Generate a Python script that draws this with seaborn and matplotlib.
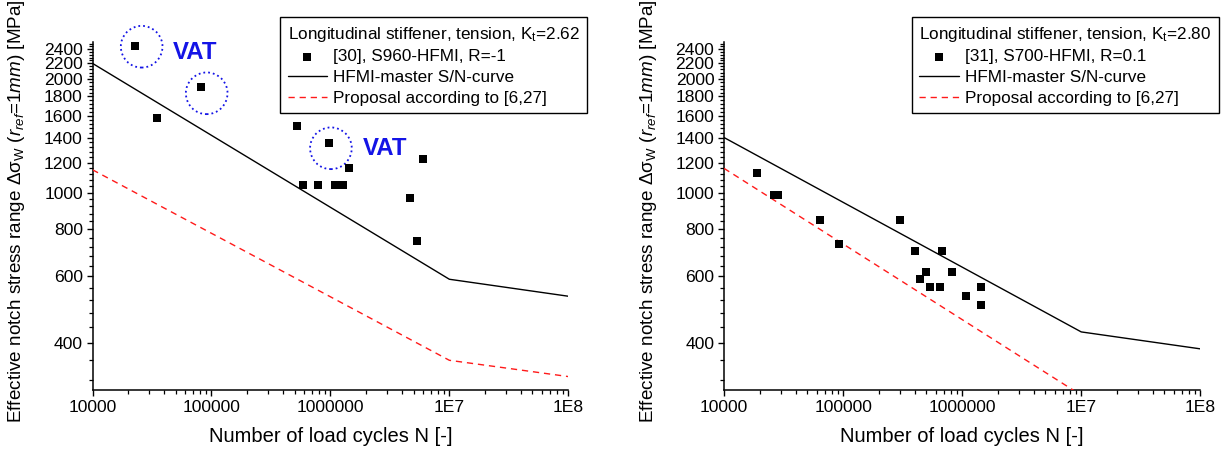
import numpy as np
import pandas as pd
import matplotlib
matplotlib.use("Agg")
import matplotlib.pyplot as plt
from matplotlib.ticker import FixedLocator, FixedFormatter, LogLocator, NullFormatter
import seaborn as sns

# ---- data -------------------------------------------------------------
# S960 longitudinal stiffener, R=-1 (ref. [30])
s960_cycles = [22800, 34600, 81600, 520000, 590000, 780000, 1090000, 1280000,
               971000, 1420000, 4660000, 5950000, 5300000]
s960_stress = [2450, 1580, 1900, 1500, 1050, 1050, 1050, 1050,
               1350, 1160, 970, 1230, 745]

# S700 longitudinal stiffener, R=0.1 (ref. [31])
s700_cycles = [18800, 26200, 28400, 64600, 92600, 299000, 404000, 681000,
               500000, 826000, 445000, 533000, 647000, 1445000, 1080000, 1445000]
s700_stress = [1130, 986, 986, 847, 732, 847, 702, 702,
               618, 618, 590, 562, 562, 562, 533, 504]

# design curves (knee points)
curve_cycles = [1e4, 1e7, 1e8]
master_left = [2200, 590, 532]
proposal_left = [1150, 360, 326]
master_right = [1400, 428, 386]
proposal_right_cycles = [1e4, 1e7]
proposal_right = [1160, 291]

# marked variable-amplitude tests
vat_circle_cycles = [25900, 91200, 1010000]
vat_circle_stress = [2435, 1833, 1311]
vat_label_cycles = [47800, 1870000]
vat_label_stress = [2344, 1306]

# axis ticks
x_ticks = [1e4, 1e5, 1e6, 1e7, 1e8]
x_tick_labels = ["10000", "100000", "1000000", "1E7", "1E8"]
y_ticks = [400, 600, 800, 1000, 1200, 1400, 1600, 1800, 2000, 2200, 2400]
y_minor = [v for v in range(320, 2500, 40) if v not in y_ticks]

titles = ["Longitudinal stiffener, tension, K$_\\mathrm{t}$=2.62",
          "Longitudinal stiffener, tension, K$_\\mathrm{t}$=2.80"]
series_labels = ["[30], S960-HFMI, R=-1", "[31], S700-HFMI, R=0.1"]
master_label = "HFMI-master S/N-curve"
proposal_label = "Proposal according to [6,27]"

# ---- style ------------------------------------------------------------
sns.set_theme(style="ticks")
plt.rcParams["font.family"] = ["Liberation Sans", "DejaVu Sans"]
plt.rcParams["mathtext.fontset"] = "custom"
plt.rcParams["mathtext.rm"] = "Liberation Sans"
plt.rcParams["mathtext.it"] = "Liberation Sans:italic"
plt.rcParams["mathtext.bf"] = "Liberation Sans:bold"
plt.rcParams["text.color"] = "black"
plt.rcParams["axes.labelcolor"] = "black"
plt.rcParams["xtick.color"] = "black"
plt.rcParams["ytick.color"] = "black"

W, H = 1225, 457
fig = plt.figure(figsize=(W / 100, H / 100), dpi=100)
ax_l = fig.add_axes([92.5 / W, (H - 390.2) / H, 475.8 / W, 347.8 / H])
ax_r = fig.add_axes([724 / W, (H - 390.2) / H, 476.3 / W, 347.8 / H])

blue = "#1414e6"


def draw_panel(ax, cyc, stress, master, prop_cyc, prop, title, series_label):
    pts = pd.DataFrame({"N": cyc, "S": stress})
    sns.scatterplot(data=pts, x="N", y="S", ax=ax, marker="s", s=34,
                    color="black", edgecolor="black", linewidth=0,
                    label=series_label, zorder=4, clip_on=False)
    sns.lineplot(x=curve_cycles, y=master, ax=ax, color="black",
                 linewidth=1.0, label=master_label, zorder=3)
    sns.lineplot(x=prop_cyc, y=prop, ax=ax, color="#ff1a1a",
                 linewidth=1.0, linestyle=(0, (4.5, 3.5)),
                 label=proposal_label, zorder=3)

    ax.set_xscale("log")
    ax.set_yscale("log")
    ax.set_xlim(1e4, 1e8)
    ax.set_ylim(300, 2500)

    ax.xaxis.set_major_locator(FixedLocator(x_ticks))
    ax.xaxis.set_major_formatter(FixedFormatter(x_tick_labels))
    ax.xaxis.set_minor_locator(LogLocator(base=10, subs=np.arange(2, 10)))
    ax.xaxis.set_minor_formatter(NullFormatter())
    ax.yaxis.set_major_locator(FixedLocator(y_ticks))
    ax.yaxis.set_major_formatter(FixedFormatter([str(v) for v in y_ticks]))
    ax.yaxis.set_minor_locator(FixedLocator(y_minor))
    ax.yaxis.set_minor_formatter(NullFormatter())

    ax.tick_params(which="major", direction="out", length=4.5, width=1.0,
                   labelsize=12.6, pad=2.5)
    ax.tick_params(which="minor", direction="out", length=2.6, width=0.9)
    sns.despine(ax=ax)
    for side in ("left", "bottom"):
        ax.spines[side].set_color("black")
        ax.spines[side].set_linewidth(1.1)
    ax.grid(False)

    ax.set_xlabel("Number of load cycles N [-]", fontsize=14.5)
    ax.set_ylabel("Effective notch stress range Δσ$_\\mathrm{W}$ "
                  "($r_{ref}$=$\\mathit{1mm}$) [MPa]", fontsize=13.6)
    ax.xaxis.set_label_coords(0.5, -0.105)
    ax.yaxis.set_label_coords(-0.137, 0.515)

    handles, labels = ax.get_legend_handles_labels()
    x_right = (ax.get_position().x1 * W + 19) / W
    leg = ax.legend(handles, labels, title=title, loc="upper right",
                    bbox_to_anchor=(x_right, 1 - 17 / H),
                    bbox_transform=fig.transFigure, borderaxespad=0,
                    fontsize=12.3, title_fontsize=12.3, frameon=True,
                    fancybox=False, framealpha=1, edgecolor="black",
                    borderpad=0.45, labelspacing=0.33, handlelength=2.3,
                    handletextpad=0.35, alignment="left")
    leg.get_frame().set_linewidth(1.0)


draw_panel(ax_l, s960_cycles, s960_stress, master_left, curve_cycles,
           proposal_left, titles[0], series_labels[0])
draw_panel(ax_r, s700_cycles, s700_stress, master_right, proposal_right_cycles,
           proposal_right, titles[1], series_labels[1])

# variable-amplitude test markers on the S960 panel
ax_l.scatter(vat_circle_cycles, vat_circle_stress, s=900, facecolors="none",
             edgecolors=blue, linestyles=":", linewidths=1.3, zorder=2,
             clip_on=False)
for n, s in zip(vat_label_cycles, vat_label_stress):
    ax_l.text(n, s, "VAT", color=blue, fontsize=17.3, fontweight="bold",
              ha="left", va="center")

fig.savefig("out.png", dpi=100)
